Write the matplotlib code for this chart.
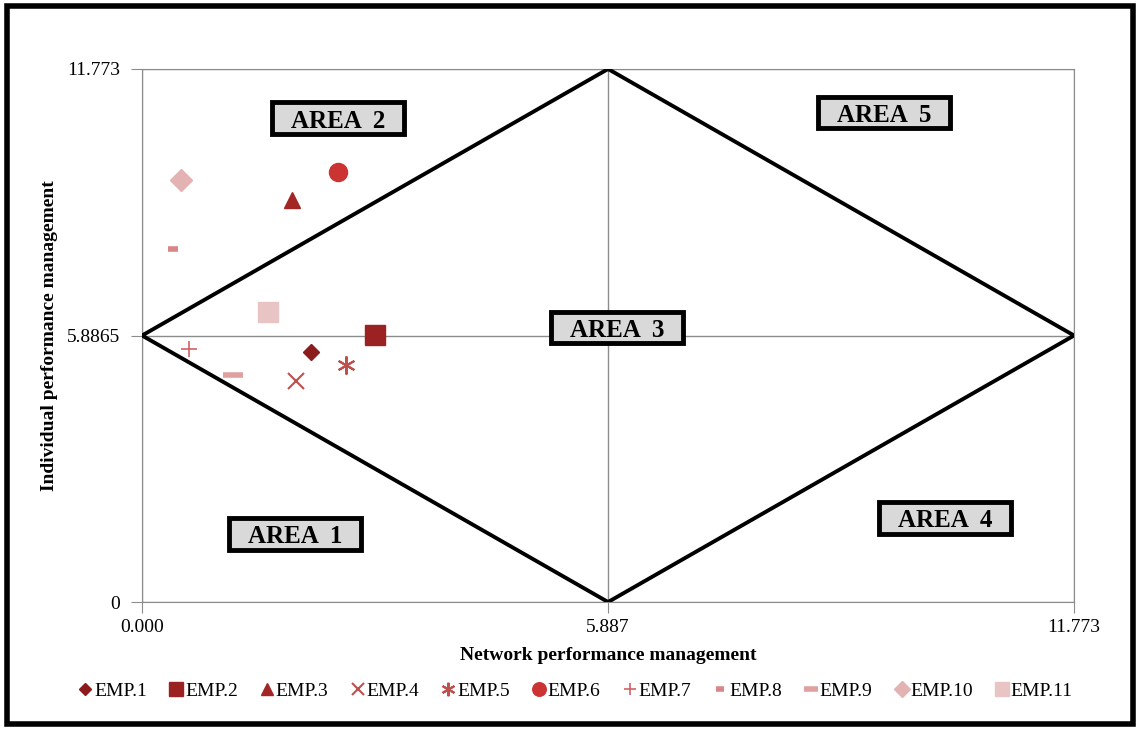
import matplotlib
matplotlib.use("Agg")
import matplotlib.pyplot as plt
from matplotlib.patches import Rectangle

plt.rcParams['font.family'] = ['Liberation Serif', 'DejaVu Serif']

# employees: network (x) and individual (y) performance
names = ["EMP.1", "EMP.2", "EMP.3", "EMP.4", "EMP.5", "EMP.6",
         "EMP.7", "EMP.8", "EMP.9", "EMP.10", "EMP.11"]
net_x = [2.14, 2.94, 1.90, 1.95, 2.58, 2.48, 0.59, 0.39, 1.15, 0.49, 1.59]
ind_y = [5.52, 5.90, 8.88, 4.88, 5.24, 9.50, 5.59, 7.80, 5.01, 9.32, 6.41]
markers = ["D", "s", "^", "x", (6, 2, 0), "o", "+", "_", "_", "D", "s"]
colors = ["#8c1c1c", "#9a2222", "#a32626", "#c0504d", "#c0504d", "#cc3333",
          "#d06464", "#d88686", "#e0a0a0", "#e3b2b2", "#e8c4c4"]
sizes = [8, 14, 12, 12, 13, 13, 12, 7, 14, 11, 14]
mews = [1, 1, 1, 1.5, 1.5, 1, 1.2, 4, 4, 1, 1]

xmax = 11.773
ymax = 11.773
xmid = 5.887
ymid = 5.8865

# quadrant diamond
dia_x = [0, xmid, xmax, xmid, 0]
dia_y = [ymid, ymax, ymid, 0, ymid]

areas = ["AREA 1", "AREA 2", "AREA 3", "AREA 4", "AREA 5"]
area_x = [1.93, 2.48, 6.00, 10.14, 9.37]
area_y = [1.51, 10.69, 6.06, 1.86, 10.81]
box_w = 1.667
box_h = 0.70

fig = plt.figure(figsize=(11.41, 7.30), dpi=100)
ax = fig.add_axes([0.1245, 0.1753, 0.8168, 0.7302])

for i in range(len(names)):
    ax.plot(net_x[i], ind_y[i], linestyle="none", marker=markers[i],
            markersize=sizes[i], color=colors[i], markeredgewidth=mews[i],
            label=names[i], zorder=4)

ax.plot(dia_x, dia_y, color="black", lw=2.8, zorder=3, solid_joinstyle="miter")

for t, x, y in zip(areas, area_x, area_y):
    ax.add_patch(Rectangle((x - box_w / 2, y - box_h / 2), box_w, box_h,
                           facecolor="#d9d9d9", edgecolor="black", lw=3.5,
                           zorder=5, clip_on=False))
    ax.text(x, y - 0.07, t.replace(" ", "  "), ha="center", va="center",
            fontsize=18, fontweight="bold", zorder=6)

ax.set_xlim(0, xmax)
ax.set_ylim(0, ymax)
ax.set_xticks([0, xmid, xmax])
ax.set_xticklabels(["0.000", "5.887", "11.773"])
ax.set_yticks([0, ymid, ymax])
ax.set_yticklabels(["0", "5.8865", "11.773"])
ax.grid(True, color="#8c8c8c", lw=1)
for s in ax.spines.values():
    s.set_color("#8c8c8c")
ax.tick_params(colors="#8c8c8c", labelcolor="black", labelsize=14, length=8)
ax.tick_params(axis="x", pad=4)
ax.tick_params(axis="y", pad=8)
ax.set_xlabel("Network performance management", fontsize=14, fontweight="bold",
              labelpad=8)
ax.set_ylabel("Individual performance management", fontsize=14,
              fontweight="bold", labelpad=6)

fig.legend(loc="center", bbox_to_anchor=(0.505, 0.053), ncol=11, frameon=False,
           fontsize=14, handlelength=0.6, handletextpad=0.15, columnspacing=1.2,
           markerscale=0.75)

fig.patches.append(Rectangle((0.006, 0.008), 0.987, 0.984,
                             transform=fig.transFigure, fill=False,
                             edgecolor="black", linewidth=4))

fig.savefig("out.png", dpi=100)
